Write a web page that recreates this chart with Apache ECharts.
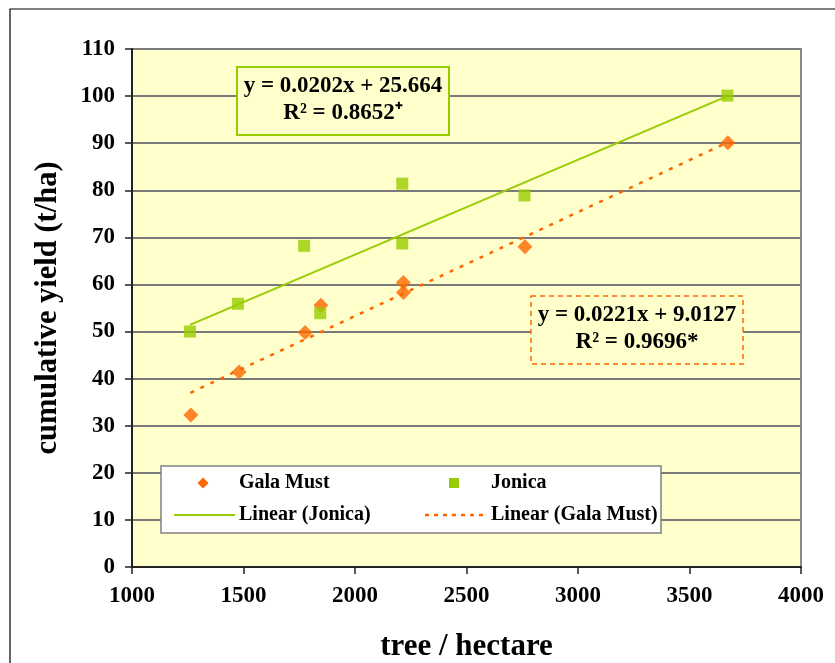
<!DOCTYPE html>
<html>
<head>
<meta charset="utf-8">
<script src="https://cdn.jsdelivr.net/npm/echarts@6/dist/echarts.min.js"></script>
<style>
html,body{margin:0;padding:0;background:#fff;}
#chart{width:835px;height:663px;}
</style>
</head>
<body>
<div id="chart"></div>
<script>
// Data
var galaMust = [[1264,32.3],[1480,41.4],[1776,49.8],[1847,55.6],[2217,60.4],[2217,58.3],[2762,68.0],[3672,90.1]];
var jonica = [[1260,50.0],[1475,55.9],[1772,68.2],[1844,53.9],[2212,81.4],[2212,68.7],[2760,78.9],[3670,100.1]];
var jonicaTrend = [[1260,51.4],[3670,100.0]];
var galaTrend = [[1262,37.0],[3672,90.2]];
var xTicks = [1000,1500,2000,2500,3000,3500,4000];
var yTicks = [0,10,20,30,40,50,60,70,80,90,100,110];
var jonicaEq = ['y = 0.0202x + 25.664','R\u00B2 = 0.8652\u207A'];
var galaEq = ['y = 0.0221x + 9.0127','R\u00B2 = 0.9696*'];
var legendNames = ['Gala Must','Jonica','Linear (Jonica)','Linear (Gala Must)'];

var FONT = '"Liberation Serif","Times New Roman",serif';
var GREEN = '#99cc00', ORANGE = '#ff6600';

var chart = echarts.init(document.getElementById('chart'));
var option = {
  backgroundColor: '#ffffff',
  animation: false,
  grid: {left:132, right:34, top:49, bottom:96, show:true, containLabel:false, outerBoundsMode:'none', backgroundColor:'#ffffcc', borderColor:'#8a8a8a', borderWidth:2},
  xAxis: {
    type:'value', min:xTicks[0], max:xTicks[xTicks.length-1], interval:500,
    name:'tree / hectare', nameLocation:'middle', nameGap:64,
    nameTextStyle:{fontFamily:FONT, fontWeight:'bold', fontSize:31, color:'#000'},
    axisLine:{show:true, onZero:false, lineStyle:{color:'#222', width:2}},
    axisTick:{show:true, length:7, lineStyle:{color:'#222', width:1.5}},
    axisLabel:{fontFamily:FONT, fontWeight:'bold', fontSize:23, color:'#000', margin:18, formatter:function(v){return String(v);}},
    splitLine:{show:false}
  },
  yAxis: {
    type:'value', min:yTicks[0], max:yTicks[yTicks.length-1], interval:10,
    name:'cumulative yield (t/ha)', nameLocation:'middle', nameGap:68, nameRotate:90,
    nameTextStyle:{fontFamily:FONT, fontWeight:'bold', fontSize:30.5, color:'#000'},
    axisLine:{show:true, lineStyle:{color:'#222', width:2}},
    axisTick:{show:true, length:7, lineStyle:{color:'#222', width:1.5}},
    axisLabel:{fontFamily:FONT, fontWeight:'bold', fontSize:23, color:'#000', margin:17, formatter:function(v){return String(v);}},
    splitLine:{show:true, lineStyle:{color:'#7a7a7a', width:2}}
  },
  series: [
    {name:legendNames[0], type:'scatter', data:galaMust, symbol:'diamond', symbolSize:15, itemStyle:{color:ORANGE}, z:3},
    {name:legendNames[1], type:'scatter', data:jonica, symbol:'rect', symbolSize:12, itemStyle:{color:GREEN}, z:4},
    {name:legendNames[2], type:'line', data:jonicaTrend, showSymbol:false, symbol:'none', lineStyle:{color:GREEN, width:2}, z:5},
    {name:legendNames[3], type:'line', data:galaTrend, showSymbol:false, symbol:'none', lineStyle:{color:ORANGE, width:2.5, type:[4,7]}, z:5}
  ],
  graphic: [
    {type:'rect', z:0, silent:true, shape:{x:10, y:9, width:900, height:800}, style:{fill:'none', stroke:'#000', lineWidth:1.2}},
    // Jonica equation box
    {type:'rect', z:50, shape:{x:237, y:67, width:212, height:68}, style:{fill:'#ffffcc', stroke:GREEN, lineWidth:2}},
    {type:'text', z:51, x:343, y:86, style:{text:jonicaEq[0], font:'bold 23px '+FONT, fill:'#000', textAlign:'center', textVerticalAlign:'middle'}},
    {type:'text', z:51, x:343, y:113, style:{text:jonicaEq[1], font:'bold 23px '+FONT, fill:'#000', textAlign:'center', textVerticalAlign:'middle'}},
    // Gala equation box
    {type:'rect', z:50, shape:{x:531, y:296, width:212, height:68}, style:{fill:'#ffffcc', stroke:ORANGE, lineWidth:1.5, lineDash:[5,4]}},
    {type:'text', z:51, x:637, y:315, style:{text:galaEq[0], font:'bold 23px '+FONT, fill:'#000', textAlign:'center', textVerticalAlign:'middle'}},
    {type:'text', z:51, x:637, y:342, style:{text:galaEq[1], font:'bold 23px '+FONT, fill:'#000', textAlign:'center', textVerticalAlign:'middle'}},
    // Legend
    {type:'rect', z:50, shape:{x:161, y:466, width:500, height:67}, style:{fill:'#ffffff', stroke:'#808080', lineWidth:1.5}},
    {type:'polygon', z:51, shape:{points:[[203,477.5],[208.5,483],[203,488.5],[197.5,483]]}, style:{fill:ORANGE}},
    {type:'text', z:51, x:239, y:483, style:{text:legendNames[0], font:'bold 20px '+FONT, fill:'#000', textAlign:'left', textVerticalAlign:'middle'}},
    {type:'rect', z:51, shape:{x:449, y:478, width:10, height:10}, style:{fill:GREEN}},
    {type:'text', z:51, x:491, y:483, style:{text:legendNames[1], font:'bold 20px '+FONT, fill:'#000', textAlign:'left', textVerticalAlign:'middle'}},
    {type:'line', z:51, shape:{x1:174, y1:515, x2:235, y2:515}, style:{stroke:GREEN, lineWidth:2}},
    {type:'text', z:51, x:239, y:515, style:{text:legendNames[2], font:'bold 20px '+FONT, fill:'#000', textAlign:'left', textVerticalAlign:'middle'}},
    {type:'line', z:51, shape:{x1:425, y1:515, x2:486, y2:515}, style:{stroke:ORANGE, lineWidth:2.5, lineDash:[4,5]}},
    {type:'text', z:51, x:491, y:515, style:{text:legendNames[3], font:'bold 20px '+FONT, fill:'#000', textAlign:'left', textVerticalAlign:'middle'}}
  ]
};
chart.setOption(option);
</script>
</body>
</html>
